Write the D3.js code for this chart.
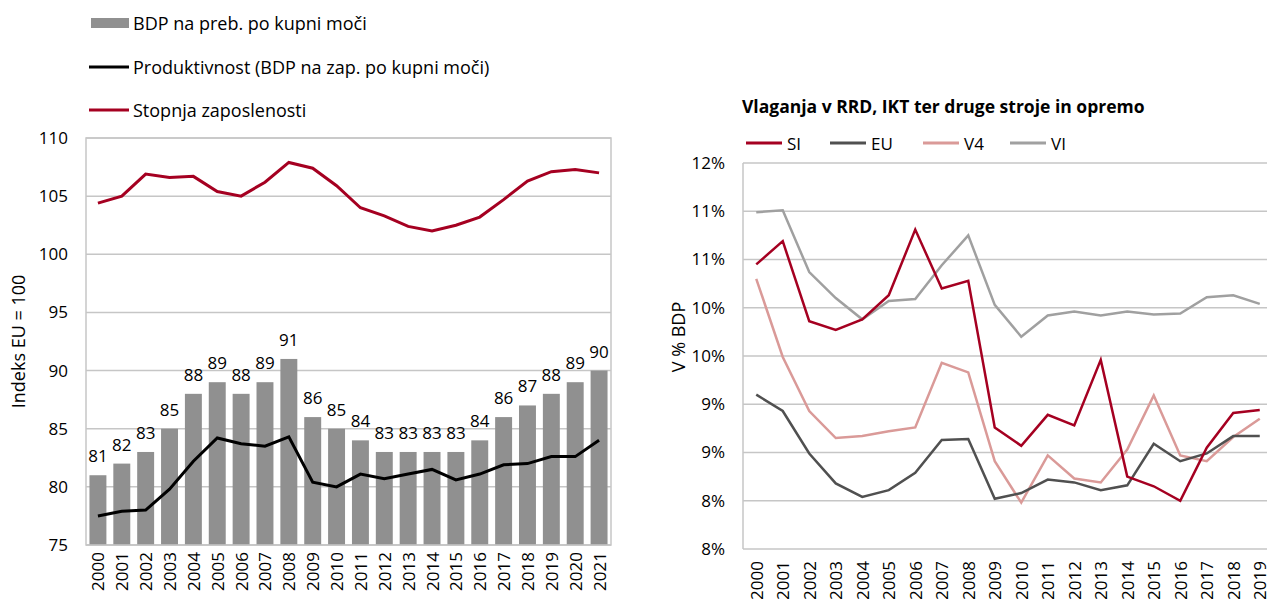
<!DOCTYPE html>
<html>
<head>
  <meta charset="utf-8">
  <title>BDP in vlaganja</title>
  <script src="https://cdn.jsdelivr.net/npm/d3@7"></script>
  <style>
    body { margin: 0; background: #fff; }
    svg text { font-family: "Open Sans", sans-serif; fill: #000; }
  </style>
</head>
<body>
<script>
// --- left chart data
var years = ["2000","2001","2002","2003","2004","2005","2006","2007","2008","2009","2010",
             "2011","2012","2013","2014","2015","2016","2017","2018","2019","2020","2021"];
var bdpPreb = [81, 82, 83, 85, 88, 89, 88, 89, 91, 86, 85, 84, 83, 83, 83, 83, 84, 86, 87, 88, 89, 90];
var produktivnost = [77.5, 77.9, 78.0, 79.8, 82.2, 84.2, 83.7, 83.5, 84.3, 80.4, 80.0,
                     81.1, 80.7, 81.1, 81.5, 80.6, 81.1, 81.9, 82.0, 82.6, 82.6, 84.0];
var zaposlenost = [104.4, 105.0, 106.9, 106.6, 106.7, 105.4, 105.0, 106.2, 107.9, 107.4, 105.9,
                   104.0, 103.3, 102.4, 102.0, 102.5, 103.2, 104.7, 106.3, 107.1, 107.3, 107.0];
var leftTicks = [75, 80, 85, 90, 95, 100, 105, 110];

// --- right chart data
var years2 = ["2000","2001","2002","2003","2004","2005","2006","2007","2008","2009",
              "2010","2011","2012","2013","2014","2015","2016","2017","2018","2019"];
var si = [10.45, 10.69, 9.86, 9.77, 9.88, 10.13, 10.81, 10.20, 10.28, 8.76,
          8.57, 8.89, 8.78, 9.46, 8.25, 8.15, 8.00, 8.55, 8.91, 8.94];
var eu = [9.10, 8.93, 8.49, 8.18, 8.04, 8.11, 8.29, 8.63, 8.64, 8.02,
          8.08, 8.22, 8.19, 8.11, 8.16, 8.59, 8.41, 8.49, 8.67, 8.67];
var v4 = [10.30, 9.49, 8.93, 8.65, 8.67, 8.72, 8.76, 9.43, 9.33, 8.41,
          7.98, 8.47, 8.23, 8.19, 8.53, 9.09, 8.47, 8.41, 8.66, 8.85];
var vi = [10.99, 11.01, 10.37, 10.10, 9.88, 10.07, 10.09, 10.44, 10.75, 10.03,
          9.70, 9.92, 9.96, 9.92, 9.96, 9.93, 9.94, 10.11, 10.13, 10.04];
var rightTicks = [7.5, 8, 8.5, 9, 9.5, 10, 10.5, 11, 11.5];
var rightTickLabels = ["8%", "8%", "9%", "9%", "10%", "10%", "11%", "11%", "12%"];

var W = 1267, H = 599;
var gridColor = "#c6c6c6";
var red = "#a50021";

var svg = d3.select("body").append("svg")
  .attr("width", W)
  .attr("height", H);

// ================= LEFT CHART =================
var L = {left: 86, right: 611, top: 138, bottom: 545};

var xL = d3.scaleBand()
  .domain(years)
  .range([L.left, L.right])
  .paddingInner(0.29)
  .paddingOuter(0.145);

var yL = d3.scaleLinear()
  .domain([75, 110])
  .range([L.bottom, L.top]);

var gL = svg.append("g");

// gridlines
gL.selectAll("line.grid")
  .data(leftTicks)
  .enter()
  .append("line")
  .attr("x1", L.left).attr("x2", L.right)
  .attr("y1", function(d) { return yL(d); })
  .attr("y2", function(d) { return yL(d); })
  .attr("stroke", gridColor)
  .attr("stroke-width", 1.5);

// frame
gL.append("rect")
  .attr("x", L.left).attr("y", L.top)
  .attr("width", L.right - L.left).attr("height", L.bottom - L.top)
  .attr("fill", "none")
  .attr("stroke", gridColor)
  .attr("stroke-width", 1.5);

// y axis
var yAxisL = gL.append("g")
  .attr("transform", "translate(" + L.left + ",0)")
  .call(d3.axisLeft(yL).tickValues(leftTicks).tickSize(0).tickPadding(18));
yAxisL.select(".domain").remove();
yAxisL.selectAll("text").attr("font-size", "17px").attr("font-family", "Open Sans");

// bars
gL.selectAll("rect.bar")
  .data(bdpPreb)
  .enter()
  .append("rect")
  .attr("class", "bar")
  .attr("x", function(d, i) { return xL(years[i]); })
  .attr("y", function(d) { return yL(d); })
  .attr("width", xL.bandwidth())
  .attr("height", function(d) { return L.bottom - yL(d); })
  .attr("fill", "#909090");

// bar labels
gL.selectAll("text.lbl")
  .data(bdpPreb)
  .enter()
  .append("text")
  .attr("class", "lbl")
  .attr("text-anchor", "middle")
  .attr("x", function(d, i) { return xL(years[i]) + xL.bandwidth() / 2; })
  .attr("y", function(d) { return yL(d) - 13; })
  .attr("font-size", "17px")
  .text(function(d) { return d; });

// bottom axis line redraw over bars
gL.append("line")
  .attr("x1", L.left).attr("x2", L.right)
  .attr("y1", L.bottom).attr("y2", L.bottom)
  .attr("stroke", gridColor).attr("stroke-width", 1.5);

var lineL = d3.line()
  .x(function(d, i) { return xL(years[i]) + xL.bandwidth() / 2; })
  .y(function(d) { return yL(d); });

gL.append("path")
  .datum(produktivnost)
  .attr("d", lineL)
  .attr("fill", "none")
  .attr("stroke", "#000")
  .attr("stroke-width", 3);

gL.append("path")
  .datum(zaposlenost)
  .attr("d", lineL)
  .attr("fill", "none")
  .attr("stroke", red)
  .attr("stroke-width", 3);

// x labels
gL.selectAll("text.xl")
  .data(years)
  .enter()
  .append("text")
  .attr("class", "xl")
  .attr("text-anchor", "end")
  .attr("dominant-baseline", "central")
  .attr("font-size", "17px")
  .attr("transform", function(d) {
    return "translate(" + (xL(d) + xL.bandwidth() / 2) + "," + (L.bottom + 7) + ") rotate(-90)";
  })
  .text(function(d) { return d; });

// y title
gL.append("text")
  .attr("text-anchor", "middle")
  .attr("dominant-baseline", "central")
  .attr("font-size", "18px")
  .attr("transform", "translate(18," + ((L.top + L.bottom) / 2) + ") rotate(-90)")
  .text("Indeks EU = 100");

// legend
var legL = [
  {name: "BDP na preb. po kupni moči", type: "rect", color: "#909090", y: 23},
  {name: "Produktivnost (BDP na zap. po kupni moči)", type: "line", color: "#000", y: 67},
  {name: "Stopnja zaposlenosti", type: "line", color: red, y: 110}
];
legL.forEach(function(d) {
  if (d.type === "rect") {
    gL.append("rect").attr("x", 91).attr("y", d.y - 5).attr("width", 38).attr("height", 10).attr("fill", d.color);
  } else {
    gL.append("line").attr("x1", 89).attr("x2", 129).attr("y1", d.y).attr("y2", d.y)
      .attr("stroke", d.color).attr("stroke-width", 3);
  }
  gL.append("text").attr("x", 133).attr("y", d.y).attr("dominant-baseline", "central")
    .attr("font-size", "18px").text(d.name);
});

// ================= RIGHT CHART =================
var R = {left: 743, right: 1273, top: 163, bottom: 549};

var xR = d3.scalePoint()
  .domain(years2)
  .range([R.left, R.right])
  .padding(0.5);

var yR = d3.scaleLinear()
  .domain([7.5, 11.5])
  .range([R.bottom, R.top]);

var gR = svg.append("g");

gR.selectAll("line.grid")
  .data(rightTicks)
  .enter()
  .append("line")
  .attr("x1", R.left).attr("x2", R.right)
  .attr("y1", function(d) { return yR(d); })
  .attr("y2", function(d) { return yR(d); })
  .attr("stroke", gridColor)
  .attr("stroke-width", 1.5);

gR.append("line")
  .attr("x1", R.left).attr("x2", R.left)
  .attr("y1", R.top).attr("y2", R.bottom)
  .attr("stroke", gridColor).attr("stroke-width", 1.5);

var yAxisR = gR.append("g")
  .attr("transform", "translate(" + R.left + ",0)")
  .call(d3.axisLeft(yR).tickValues(rightTicks).tickSize(0).tickPadding(18)
    .tickFormat(function(d, i) { return rightTickLabels[i]; }));
yAxisR.select(".domain").remove();
yAxisR.selectAll("text").attr("font-size", "17px").attr("font-family", "Open Sans");

var series = [
  {name: "SI", values: si, color: red},
  {name: "EU", values: eu, color: "#505050"},
  {name: "V4", values: v4, color: "#da9a98"},
  {name: "VI", values: vi, color: "#a0a0a0"}
];

var lineR = d3.line()
  .x(function(d, i) { return xR(years2[i]); })
  .y(function(d) { return yR(d); });

// draw VI first, then V4, EU, SI on top
series.slice().reverse().forEach(function(s) {
  gR.append("path")
    .datum(s.values)
    .attr("d", lineR)
    .attr("fill", "none")
    .attr("stroke", s.color)
    .attr("stroke-width", 2.5);
});

gR.selectAll("text.xl")
  .data(years2)
  .enter()
  .append("text")
  .attr("class", "xl")
  .attr("text-anchor", "end")
  .attr("dominant-baseline", "central")
  .attr("font-size", "17px")
  .attr("transform", function(d) {
    return "translate(" + xR(d) + "," + (R.bottom + 12) + ") rotate(-90)";
  })
  .text(function(d) { return d; });

gR.append("text")
  .attr("text-anchor", "middle")
  .attr("dominant-baseline", "central")
  .attr("font-size", "18px")
  .attr("transform", "translate(678,337) rotate(-90)")
  .text("V % BDP");

gR.append("text")
  .attr("x", 742).attr("y", 106)
  .attr("dominant-baseline", "central")
  .attr("font-size", "17.5px")
  .attr("font-weight", "bold")
  .text("Vlaganja v RRD, IKT ter druge stroje in opremo");

var legX = [746, 830, 923, 1010];
series.forEach(function(s, i) {
  gR.append("line")
    .attr("x1", legX[i]).attr("x2", legX[i] + 36)
    .attr("y1", 143).attr("y2", 143)
    .attr("stroke", s.color).attr("stroke-width", 3);
  gR.append("text")
    .attr("x", legX[i] + 41).attr("y", 143)
    .attr("dominant-baseline", "central")
    .attr("font-size", "17px")
    .text(s.name);
});
</script>
</body>
</html>
